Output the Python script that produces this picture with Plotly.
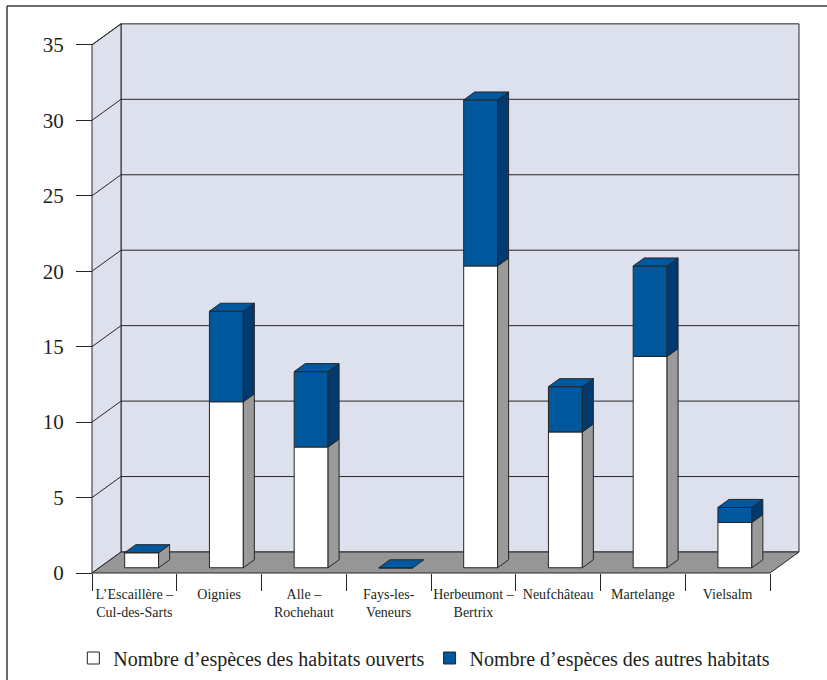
import plotly.graph_objects as go

# ---------------- data ----------------
categories = ["L’Escaillère –<br>Cul-des-Sarts", "Oignies", "Alle –<br>Rochehaut",
              "Fays-les-<br>Veneurs", "Herbeumont –<br>Bertrix", "Neufchâteau",
              "Martelange", "Vielsalm"]
open_habitats = [1, 11, 8, 0, 20, 9, 14, 3]
other_habitats = [0, 6, 5, 0, 11, 3, 6, 1]
y_tick_values = [0, 5, 10, 15, 20, 25, 30, 35]
series_names = ["Nombre d’espèces des habitats ouverts",
                "Nombre d’espèces des autres habitats"]

# ---------------- layout geometry (pixels) ----------------
W, H = 827, 680
ml, mr, mt, mb = 85, 20, 18, 100
plot_w = W - ml - mr
plot_h = H - mt - mb
origin_px = (92, 573)          # front-left-bottom corner of the box
kx = 84.75                     # px per category
ky = 15.09                     # px per unit
depth_px = (29, 21)            # oblique depth of the box

x0 = -0.5 - (origin_px[0] - ml) / kx
x1 = x0 + plot_w / kx
y0 = -((mt + plot_h) - origin_px[1]) / ky
y1 = y0 + plot_h / ky
DX = depth_px[0] / kx
DY = depth_px[1] / ky
n = len(categories)
ymax = y_tick_values[-1]

# colours
WALL = "#dce1ed"
FLOOR = "#969696"
LINE = "#262626"
BLUE = "#00579c"
BLUE_SIDE = "#003a6f"
BLUE_TOP = "#00599e"
GRAY_SIDE = "#9a9a9a"
FONT = "Liberation Serif"

# bar placement inside the depth
f0, f1 = 0.25, 0.63
bw = 0.4
ddx = (f1 - f0) * DX
ddy = (f1 - f0) * DY
xc = [i + f0 * DX for i in range(n)]
base0 = f0 * DY

fig = go.Figure()

# front faces (bars)
fig.add_trace(go.Bar(
    x=xc, y=open_habitats, base=[base0] * n, width=bw,
    marker=dict(color="white", line=dict(color=LINE, width=1)),
    name=series_names[0], showlegend=True))
fig.add_trace(go.Bar(
    x=xc, y=other_habitats, base=[base0 + o for o in open_habitats], width=bw,
    marker=dict(color=BLUE, line=dict(color=LINE, width=1)),
    name=series_names[1], showlegend=True))


def side_poly(xr, b, t):
    return ([xr, xr + ddx, xr + ddx, xr, xr, None],
            [b, b + ddy, t + ddy, t, b, None])


# side faces and top faces
gx, gy, bx, by, tx, ty = [], [], [], [], [], []
for i in range(n):
    xr = xc[i] + bw / 2
    xl = xc[i] - bw / 2
    b = base0
    t1 = base0 + open_habitats[i]
    t2 = t1 + other_habitats[i]
    if open_habitats[i] > 0:
        px, py = side_poly(xr, b, t1)
        gx += px; gy += py
    if other_habitats[i] > 0:
        px, py = side_poly(xr, t1, t2)
        bx += px; by += py
    tx += [xl, xr, xr + ddx, xl + ddx, xl, None]
    ty += [t2, t2, t2 + ddy, t2 + ddy, t2, None]

fig.add_trace(go.Scatter(x=gx, y=gy, mode="lines", fill="toself", fillcolor=GRAY_SIDE,
                         line=dict(color=LINE, width=1), showlegend=False, hoverinfo="skip"))
fig.add_trace(go.Scatter(x=bx, y=by, mode="lines", fill="toself", fillcolor=BLUE_SIDE,
                         line=dict(color=LINE, width=1), showlegend=False, hoverinfo="skip"))
fig.add_trace(go.Scatter(x=tx, y=ty, mode="lines", fill="toself", fillcolor=BLUE_TOP,
                         line=dict(color=LINE, width=1), showlegend=False, hoverinfo="skip"))

# ---------------- box (walls, floor, gridlines) ----------------
L, R = -0.5, n - 0.5
shapes = []
shapes.append(dict(type="rect", xref="x", yref="y", x0=L + DX, x1=R + DX, y0=DY, y1=ymax + DY,
                   fillcolor=WALL, line=dict(color=LINE, width=1), layer="below"))
shapes.append(dict(type="path", xref="x", yref="y",
                   path=f"M{L},0 L{L},{ymax} L{L+DX},{ymax+DY} L{L+DX},{DY} Z",
                   fillcolor=WALL, line=dict(color=LINE, width=1), layer="below"))
shapes.append(dict(type="path", xref="x", yref="y",
                   path=f"M{L},0 L{R},0 L{R+DX},{DY} L{L+DX},{DY} Z",
                   fillcolor=FLOOR, line=dict(color=LINE, width=1), layer="below"))
for v in y_tick_values[1:-1]:
    shapes.append(dict(type="line", xref="x", yref="y", x0=L + DX, x1=R + DX, y0=v + DY, y1=v + DY,
                       line=dict(color=LINE, width=1), layer="below"))
for v in y_tick_values[1:]:
    shapes.append(dict(type="line", xref="x", yref="y", x0=L, x1=L + DX, y0=v, y1=v + DY,
                       line=dict(color=LINE, width=1), layer="below"))

# outer frame
fx = (7 - ml) / plot_w
fy = (mt + plot_h - 6) / plot_h
shapes.append(dict(type="line", xref="paper", yref="paper", x0=fx, x1=fx, y0=fy, y1=-0.5,
                   line=dict(color="#3a3a3a", width=1.5)))
shapes.append(dict(type="line", xref="paper", yref="paper", x0=fx, x1=1.5, y0=fy, y1=fy,
                   line=dict(color="#3a3a3a", width=1.5)))

fig.update_layout(
    width=W, height=H,
    margin=dict(l=ml, r=mr, t=mt, b=mb, pad=0, autoexpand=False),
    paper_bgcolor="white", plot_bgcolor="white",
    barmode="overlay",
    shapes=shapes,
    font=dict(family=FONT, color="#231f20"),
    xaxis=dict(range=[x0, x1], showgrid=False, zeroline=False, showline=False,
               tickmode="array", tickvals=list(range(n)), ticktext=categories,
               ticks="", tickfont=dict(family=FONT, size=14, color="#231f20"),
               anchor="free", position=((mt + plot_h) - origin_px[1]) / plot_h,
               ticklabelstandoff=11, automargin=False,
               minor=dict(tickmode="array", tickvals=[i - 0.5 for i in range(n + 1)],
                          ticks="outside", ticklen=17, tickcolor=LINE, tickwidth=1,
                          showgrid=False),
               fixedrange=True),
    yaxis=dict(range=[y0, y1], showgrid=False, zeroline=False, showline=False,
               tickmode="array", tickvals=y_tick_values,
               ticks="outside", ticklen=16, tickcolor=LINE, tickwidth=1,
               tickfont=dict(family=FONT, size=21, color="#231f20"),
               anchor="free", position=(origin_px[0] - ml) / plot_w,
               ticklabelstandoff=8, automargin=False,
               fixedrange=True),
    legend=dict(orientation="h", x=0.47, xanchor="center",
                y=((mt + plot_h) - 658) / plot_h, yanchor="middle",
                font=dict(family=FONT, size=20, color="#231f20"),
                bgcolor="rgba(0,0,0,0)", traceorder="normal"),
)

fig.write_html("out.html")
